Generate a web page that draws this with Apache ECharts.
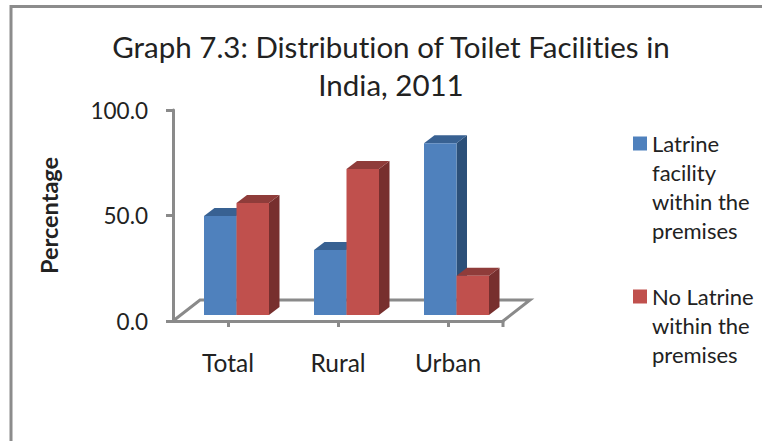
<!DOCTYPE html>
<html><head><meta charset="utf-8">
<style>html,body{margin:0;padding:0;background:#fff}#c{width:762px;height:441px}
text{font-variant-ligatures:none !important}</style>
<script src="https://cdn.jsdelivr.net/npm/echarts@6/dist/echarts.min.js"></script>
</head><body><div id="c"></div>
<script>
const categories = ['Total', 'Rural', 'Urban'];
const latrineWithin = [46.9, 30.8, 81.4];
const noLatrine = [53.1, 69.2, 18.6];
const yTicks = { min: 0, max: 100, interval: 50 };
const seriesNames = ['Latrine\nfacility\nwithin the\npremises', 'No Latrine\nwithin the\npremises'];
const FONT = 'Lato, "Open Sans", sans-serif';
const GRAY = '#8a8a8a', TEXT = '#222222';

function bar3d(color, topColor, sideColor, shift) {
  return function (params, api) {
    const p = api.coord([api.value(0), api.value(1)]);
    const b = api.coord([api.value(0), 0]);
    const w = 32.5, dx = 10.5, dy = 8, lift = 6;
    const x0 = p[0] + 8.5 + shift * w, x1 = x0 + w, top = p[1] - lift, bot = b[1] - lift;
    return { type: 'group', children: [
      { type: 'polygon', shape: { points: [[x1, top], [x1 + dx, top - dy], [x1 + dx, bot - dy], [x1, bot]] }, style: { fill: sideColor } },
      { type: 'polygon', shape: { points: [[x0, top], [x0 + dx, top - dy], [x1 + dx, top - dy], [x1, top]] }, style: { fill: topColor } },
      { type: 'rect', shape: { x: x0, y: top, width: w, height: bot - top }, style: { fill: color } }
    ] };
  };
}
function floor(params, api) {
  const r = params.coordSys, dx = 27, dy = 21;
  const L = r.x, R = r.x + r.width, B = r.y + r.height;
  const st = { stroke: GRAY, lineWidth: 3, fill: 'none' };
  return { type: 'group', children: [
    { type: 'polyline', shape: { points: [[L, B], [L + dx, B - dy], [R + dx, B - dy], [R, B], [R, B + 6]] }, style: st }
  ] };
}
// Blank lines above the name so that the swatch sits beside the first text line.
const topAligned = name => '\n'.repeat(name.split('\n').length - 1) + name;
const legendText = { fontFamily: FONT, fontSize: 22, color: TEXT, lineHeight: 29 };
const chart = echarts.init(document.getElementById('c'), null, { renderer: 'svg' });
chart.setOption({
  animation: false,
  backgroundColor: '#fff',
  title: {
    text: 'Graph 7.3: Distribution of Toilet Facilities in\nIndia, 2011',
    left: 386, top: 22, textAlign: 'center',
    textStyle: { fontFamily: FONT, fontSize: 29.5, fontWeight: 'normal', color: TEXT, lineHeight: 38 }
  },
  grid: { left: 173, top: 110, width: 330, height: 211 },
  graphic: [{ type: 'polyline', silent: true, z: -1,
    shape: { points: [[11, 441], [11, 6.5], [762, 6.5]] },
    style: { stroke: '#8c8c8c', lineWidth: 3, fill: 'none' } }],
  xAxis: { type: 'category', data: categories, boundaryGap: true,
    axisLine: { lineStyle: { color: GRAY, width: 3 } },
    axisTick: { show: true, alignWithLabel: true, length: 6, lineStyle: { color: GRAY, width: 3 } },
    axisLabel: { margin: 29, fontFamily: FONT, fontSize: 24.5, color: TEXT } },
  yAxis: { type: 'value', min: yTicks.min, max: yTicks.max, interval: yTicks.interval,
    name: 'Percentage', nameLocation: 'middle', nameGap: 112, nameRotate: 90,
    nameTextStyle: { fontFamily: FONT, fontSize: 23.5, fontWeight: 'bold', color: TEXT },
    splitLine: { show: false },
    axisLine: { show: true, lineStyle: { color: GRAY, width: 3 } },
    axisTick: { show: true, length: 7, lineStyle: { color: GRAY, width: 3 } },
    axisLabel: { margin: 25, fontFamily: FONT, fontSize: 22.5, color: TEXT, formatter: v => v.toFixed(1) } },
  legend: [
    { left: 628, top: 37, orient: 'vertical', icon: 'rect', itemWidth: 14, itemHeight: 14, selectedMode: false,
      data: [seriesNames[0]], formatter: topAligned, textStyle: legendText },
    { left: 628, top: 219, orient: 'vertical', icon: 'rect', itemWidth: 14, itemHeight: 14, selectedMode: false,
      data: [seriesNames[1]], formatter: topAligned, textStyle: legendText }
  ],
  series: [
    { type: 'custom', name: 'floor', z: 1, silent: true, renderItem: floor, data: [[0, 0]], encode: { x: 0, y: 1 } },
    { type: 'custom', name: seriesNames[0], z: 2, itemStyle: { color: '#4f81bd' }, renderItem: bar3d('#4f81bd', '#386192', '#2c5079', -1),
      data: latrineWithin.map((v, i) => [i, v]), encode: { x: 0, y: 1 } },
    { type: 'custom', name: seriesNames[1], z: 3, itemStyle: { color: '#c0504d' }, renderItem: bar3d('#c0504d', '#8f3c3a', '#772f2e', 0),
      data: noLatrine.map((v, i) => [i, v]), encode: { x: 0, y: 1 } }
  ]
});
</script></body></html>
